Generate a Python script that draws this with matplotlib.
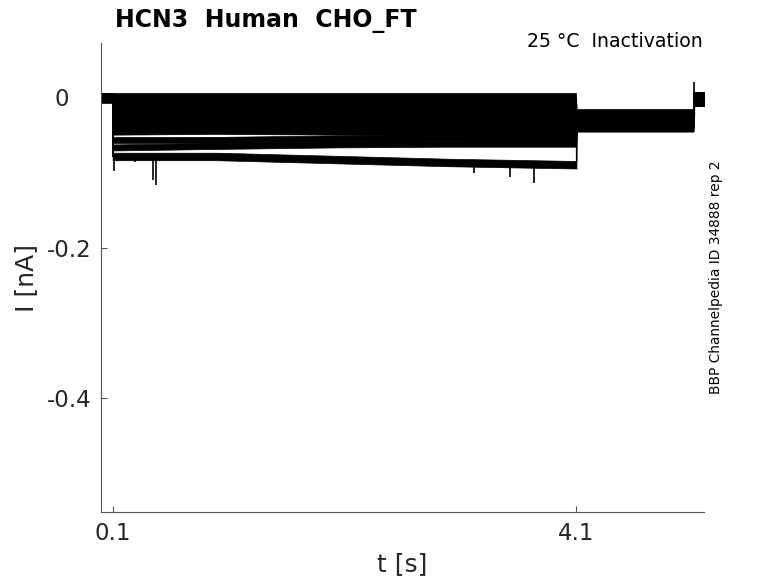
import numpy as np
import matplotlib
matplotlib.use("Agg")
import matplotlib.pyplot as plt

# --- protocol timing (s) ---
t_start = 0.0
t_step_on = 0.1
t_step_off = 4.1
t_test_off = 5.11
t_end = 5.2

# sample times for the conditioning step level (s)
step_times = [0.1, 1.0, 2.0, 3.0, 4.1]

# conditioning step level per sweep (nA), read at step_times
step_levels = [
    [0.000, 0.000, 0.000, 0.000, 0.000],
    [-0.004, -0.004, -0.004, -0.004, -0.004],
    [-0.008, -0.008, -0.008, -0.008, -0.008],
    [-0.012, -0.012, -0.012, -0.013, -0.013],
    [-0.016, -0.016, -0.016, -0.017, -0.017],
    [-0.020, -0.020, -0.021, -0.021, -0.021],
    [-0.024, -0.024, -0.025, -0.025, -0.026],
    [-0.028, -0.028, -0.029, -0.030, -0.030],
    [-0.032, -0.032, -0.033, -0.034, -0.035],
    [-0.036, -0.036, -0.037, -0.038, -0.039],
    [-0.040, -0.040, -0.041, -0.042, -0.043],
    [-0.046, -0.045, -0.046, -0.047, -0.048],
    [-0.057, -0.057, -0.055, -0.054, -0.055],
    [-0.067, -0.065, -0.063, -0.062, -0.062],
    [-0.079, -0.079, -0.083, -0.087, -0.090],
]
# test pulse level per sweep (nA)
test_levels = [-0.022, -0.024, -0.025, -0.026, -0.027, -0.028, -0.030,
               -0.031, -0.032, -0.033, -0.034, -0.035, -0.036, -0.038, -0.040]
# noise half-width per sweep (nA)
noise = [0.005, 0.004, 0.004, 0.004, 0.004, 0.004, 0.004, 0.004,
         0.004, 0.004, 0.004, 0.004, 0.004, 0.004, 0.005]

hold_level = -0.001
hold_noise = 0.006
post_level = -0.003
post_noise = 0.009
test_noise = 0.006

# isolated spikes: (time s, peak nA)
spike_t = [0.11, 0.29, 0.45, 0.47, 3.22, 3.53, 3.73, 5.11]
spike_v = [-0.098, -0.086, -0.110, -0.117, -0.101, -0.106, -0.114, 0.020]
spike_base = [-0.078, -0.078, -0.078, -0.078, -0.087, -0.088, -0.089, -0.003]

xticks = [0.1, 4.1]
yticks = [-0.4, -0.2, 0]
ytick_labels = ['-0.4', '-0.2', '0   ']

W, H = 778, 583
fig = plt.figure(figsize=(W / 100, H / 100), dpi=100)
ax = fig.add_axes([101 / W, 1 - 512 / H, (704 - 101) / W, (512 - 43) / H])

for lv, tv, nz in zip(step_levels, test_levels, noise):
    t = [t_start, t_step_on, t_step_on] + step_times[1:] + \
        [t_step_off, t_test_off, t_test_off, t_end]
    v = [hold_level, hold_level, lv[0]] + lv[1:] + \
        [tv, tv, post_level, post_level]
    w = [hold_noise, hold_noise, nz] + [nz] * (len(lv) - 1) + \
        [test_noise, test_noise, post_noise, post_noise]
    t = np.array(t)
    v = np.array(v)
    w = np.array(w)
    ax.fill_between(t, v - w, v + w, color='black', lw=0.5)
    ax.plot(t, v, color='black', lw=0.8)

ax.vlines(spike_t, spike_base, spike_v, color='black', lw=1.2)

ax.set_xlim(0, 5.2)
ax.set_ylim(-0.5515, 0.0718)
ax.set_xticks(xticks)
ax.set_xticklabels(['0.1', '4.1'])
ax.set_yticks(yticks)
ax.set_yticklabels(ytick_labels)

grey = '#262626'
for s in ['top', 'right']:
    ax.spines[s].set_visible(False)
for s in ['left', 'bottom']:
    ax.spines[s].set_color('#555555')
    ax.spines[s].set_linewidth(0.8)
ax.tick_params(direction='in', length=4.5, width=0.8, color='#555555',
               labelsize=16.5, labelcolor=grey, pad=7)

ax.set_xlabel('t [s]', fontsize=18, color=grey, labelpad=5)
ax.set_ylabel('I [nA]', fontsize=18, color=grey, labelpad=6)

fig.text(115 / W, 1 - 27 / H, 'HCN3  Human  CHO_FT', fontsize=17,
         fontweight='bold', ha='left', va='baseline')
fig.text(703 / W, 1 - 47 / H, '25 °C  Inactivation', fontsize=13.6,
         ha='right', va='baseline')
fig.text(716 / W, 1 - 277 / H, 'BBP Channelpedia ID 34888 rep 2',
         fontsize=9.9, rotation=90, ha='center', va='center')

fig.savefig('out.png', dpi=100)
